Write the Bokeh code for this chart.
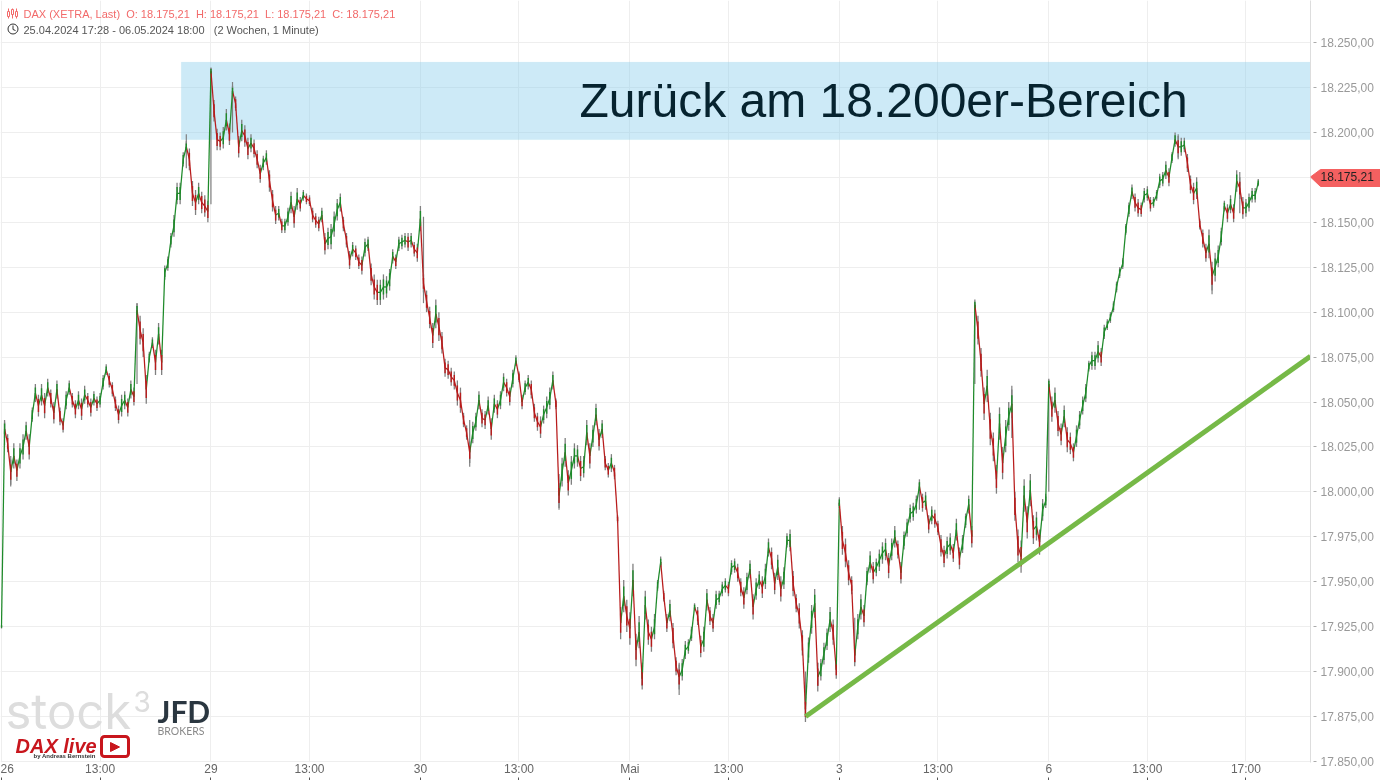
from bokeh.plotting import figure
from bokeh.embed import file_html
from bokeh.resources import INLINE
from bokeh.core.properties import value
from bokeh.models import (ColumnDataSource, FixedTicker, LinearAxis, Label, Grid,
                          BoxAnnotation, PolyAnnotation, Range1d)

# ---------- data ----------
STEP_MIN = 7.5   # one stored close per 7.5 trading minutes
closes = [
 # 26.04.
 17925,18035,18027,18011,18020,18012,18020,18025,18034,18025,18043,18055,18048,18054,18048,18058,18052,18044,18057,18042,18037,
 18051,18058,18051,18046,18051,18046,18054,18051,18047,18052,18049,18051,18061,18068,18062,18057,18049,18043,18048,18051,18047,18057,18053,
 18101,18090,18083,18057,18075,18083,18072,18088,18072,
 18122,18127,18140,18148,18166,18166,18185,18192,18185,18166,18161,18166,18161,18159,18156,
 # 29.04.
 18234,18212,18196,18195,18197,18207,18199,18223,18216,18192,18201,18198,18191,18194,18191,18185,18177,18183,18186,18173,18162,18154,18155,18148,18148,18153,18161,18153,18163,18160,18165,18163,18162,18154,18151,18149,18154,18138,18141,18142,18149,18157,18161,18149,18140,18129,
 18135,18133,18128,18126,18136,18138,18121,18114,18111,18111,18114,18114,18118,18131,18128,18138,18139,18140,18139,18140,18135,18133,
 # 30.04.
 18152,18116,18106,18097,18087,18099,18092,18083,18069,18068,18064,18062,18055,18051,18040,18033,18022,18033,18039,18051,
 18041,18040,18048,18035,18049,18046,18051,18061,18058,18053,18063,18073,18064,18050,18058,18061,18057,18044,18039,18036,18043,18047,18052,18062,18049,
 17998,18011,18022,18005,18012,18020,18020,18013,18014,18033,18020,18031,18043,18029,18035,18016,18012,18016,18011,17985,17927,17942,17931,
 # 02.05.
 17924,17951,17912,17922,17896,17937,17922,17918,17925,17948,17961,
 17942,17927,17934,17920,17903,17897,17901,17912,17914,17921,17936,17931,17914,17918,17940,17931,17927,17940,17941,17946,17948,17946,17958,17959,17955,17947,17941,17949,17957,17936,17946,17951,17947,17953,17969,17963,17949,17958,17946,17952,17973,17973,17949,17938,17931,17916,17879,17912,17929,17938,17897,17901,17910,17918,17929,17922,17901,
 # 03.05.
 17994,17973,17966,17955,17948,17909,17925,17936,17931,17953,17961,17955,17958,17962,17966,17968,17959,17968,17975,17968,17955,17973,17980,17988,17989,17993,18003,17994,17995,17982,17987,17985,17980,17970,17964,17969,17971,17966,17979,17963,17971,17984,17993,17975,
 18104,18090,18072,18049,18059,18035,18025,18007,18038,18016,18031,18042,18049,17992,17970,17964,17998,17983,18001,17979,17981,17972,17990,17995,
 # 06.05.
 18060,18046,18051,18038,18032,18042,18029,18027,18022,18031,18040,18048,18055,18070,18073,18073,18078,18075,18089,18093,18097,18103,18114,18122,18127,18146,18157,18167,18161,18158,18157,18165,18166,18160,18161,18165,18173,18174,18179,18175,18186,18196,18192,18192,18193,18183,18171,18166,18169,18149,18141,18133,18138,18120,18125,18131,18142,18159,18155,18160,18155,18173,18169,18158,18158,18161,18165,18165,18172,
]
# half height of the bar at each stored close
bar_spread = [
 1,5,5,7,7,6,7,7,5,7, 4,5,6,6,7,5,5,6,5,5, 4,5,4,4,5,5,6,5,4,5, 4,4,4,4,3,4,4,4,5,6,
 5,5,5,5,4,8,8,8,3,3, 7,6,7,4,4,4,6,6,6,4, 3,6,7,7,6,6,6,6,2,6, 6,5,6,6,6,3,4,6,6,6,
 6,5,5,5,5,4,4,6,6,5, 4,4,4,5,6,6,6,4,3,3, 3,4,4,4,4,6,6,7,7,6, 5,4,4,5,4,4,4,5,5,4,
 6,7,7,7,7,6,6,4,4,4, 4,4,5,4,4,5,7,5,6,6, 7,8,8,6,5,5,5,5,7,7, 4,4,6,6,5,5,5,5,5,6,
 5,5,5,5,5,5,5,3,3,4, 4,4,5,5,5,6,5,6,6,5, 3,7,8,8,7,8,7,6,7,6, 7,7,6,6,6,5,4,4,5,4,
 2,9,9,9,9,9,9,9,6,8, 7,7,7,3,3,3,5,6,7,5, 7,6,5,4,4,2,5,6,7,6, 5,5,5,4,4,4,4,4,4,5,
 5,6,6,5,7,6,5,6,7,5, 6,6,7,7,6,4,6,7,5,7, 7,7,7,8,8,8,6,6,6,7, 7,5,3,8,8,7,5,6,7,7,
 6,5,6,6,5,6,6,6,7,6, 6,5,6,5,5,5,5,5,4,5, 5,5,5,5,4,6,6,6,6,5, 6,6,5,4,5,6,3,8,8,9,
 9,9,8,8,9,9,9,8,8,8, 9,9,9,9,9,8,8,7,6,4, 3,7,7,7,6,6,7,6,5,6, 5,5,5,3,5,5,6,5,4,3,
 3,3,3,3,3,3,4,4,5,5, 4,4,4,4,3,3,4,4,5,5, 3,4,6,5,4,5,5,6,6,3, 5,5,8,8,8,6,5,3,5,5,
 5,6,6,6,5,5,4,4,2,
]
# notable wicks: sample number, low, high
wick_i    = [1, 3, 44, 60, 68, 75, 137, 152, 181, 208, 220, 261, 265, 277, 298, 316, 328, 340, 382, 393, 402]
wick_low  = [18026, 18003, 18060, 18180, 18160, 18200, 18105, 18014, 17990, 17892, 17887, 17875, 17892, 17905, 17990, 18060, 18030, 18000, 18185, 18110, 18155]
wick_high = [18039, 18020, 18105, 18199, 18236, 18228, 18153, 18040, 18010, 17905, 17905, 17900, 17905, 17930, 18005, 18105, 18059, 18062, 18199, 18125, 18178]

price_ticks  = [18250,18225,18200,18150,18125,18100,18075,18050,18025,18000,17975,17950,17925,17900,17875,17850]
price_labels = ["18.250,00","18.225,00","18.200,00","18.150,00","18.125,00","18.100,00","18.075,00","18.050,00","18.025,00","18.000,00","17.975,00","17.950,00","17.925,00","17.900,00","17.875,00","17.850,00"]
grid_prices  = [18250,18225,18200,18175,18150,18125,18100,18075,18050,18025,18000,17975,17950,17925,17900,17875,17850]
time_ticks   = [0,240,510,750,1020,1260,1530,1770,2040,2280,2550,2790,3030]
time_labels  = ["26","13:00","29","13:00","30","13:00","Mai","13:00","3","13:00","6","13:00","17:00"]

zone_low, zone_high = 18196, 18239
zone_start = 438
trend_x = [1958, 3187]
trend_y = [17875, 18075.4]
last_price = 18175.21
last_label = "18.175,21"

title_text = "Zurück am 18.200er-Bereich"
header_1 = "DAX (XETRA, Last)\u00a0\u00a0O: 18.175,21\u00a0\u00a0H: 18.175,21\u00a0\u00a0L: 18.175,21\u00a0\u00a0C: 18.175,21"
header_2 = "25.04.2024 17:28 - 06.05.2024 18:00\u00a0\u00a0\u00a0(2 Wochen, 1 Minute)"

# ---------- frame ----------
W, H = 1380, 780
FW, FH = 1310, 762
X0, X1 = -2.4, 3187.2
Y1, Y0 = 18273.37, 17849.44
def px(x): return X0 + x * (X1 - X0) / FW
def py(y): return Y1 - y * (Y1 - Y0) / FH

p = figure(width=W, height=H, output_backend="svg", toolbar_location=None,
           x_range=Range1d(X0, X1), y_range=Range1d(Y0, Y1),
           x_axis_location=None, y_axis_location=None,
           min_border_left=0, min_border_top=0, min_border_right=W-FW, min_border_bottom=H-FH,
           outline_line_color=None, background_fill_color="white", border_fill_color="white")
p.styles = {"position": "fixed", "left": "0px", "top": "0px"}
p.grid.visible = False
p.renderers = []

FONT = "Liberation Sans"
ya = LinearAxis(ticker=FixedTicker(ticks=price_ticks),
                major_label_overrides=dict(zip(price_ticks, price_labels)))
ya.axis_line_color = "#dddddd"
ya.major_tick_line_color = "#aaaaaa"
ya.major_tick_in = -3
ya.major_tick_out = 6
ya.minor_tick_line_color = None
ya.major_label_text_font = FONT
ya.major_label_text_font_size = "12px"
ya.major_label_text_color = "#999999"
ya.major_label_standoff = 4
p.add_layout(ya, "right")

xa = LinearAxis(ticker=FixedTicker(ticks=time_ticks),
                major_label_overrides=dict(zip(time_ticks, time_labels)))
xa.axis_line_color = None
xa.major_tick_line_color = "#555555"
xa.major_tick_in = -15
xa.major_tick_out = 18
xa.minor_tick_line_color = None
xa.major_label_text_font = FONT
xa.major_label_text_font_size = "12px"
xa.major_label_text_color = "#666666"
xa.major_label_standoff = -19
p.add_layout(xa, "below")

p.add_layout(Grid(dimension=0, ticker=xa.ticker, grid_line_color="#eeeeee", grid_line_width=1))
p.add_layout(Grid(dimension=1, ticker=FixedTicker(ticks=grid_prices), grid_line_color="#eeeeee", grid_line_width=1))

# ---------- marks ----------
p.quad(left=[zone_start], right=[X1], bottom=[zone_low], top=[zone_high],
       fill_color="#87CEEB", fill_alpha=0.42, line_color="#87CEEB", line_alpha=0.15)

times = [i * STEP_MIN for i in range(len(closes))]
colors = ["#1E8A2A"] + ["#1E8A2A" if b >= a else "#B81C1C" for a, b in zip(closes[:-1], closes[1:])]
bars = ColumnDataSource(dict(
    x=times, c=colors,
    wlo=[c - s for c, s in zip(closes, bar_spread)],
    whi=[c + s for c, s in zip(closes, bar_spread)],
    blo=[c - 0.6 * s for c, s in zip(closes, bar_spread)],
    bhi=[c + 0.6 * s for c, s in zip(closes, bar_spread)]))
wx = [k * STEP_MIN for k in wick_i]
p.segment(wx, wick_low, wx, wick_high, line_color="#808080", line_width=1.2)
p.segment("x", "wlo", "x", "whi", source=bars, line_color="#808080", line_width=1.3)
seg = ColumnDataSource(dict(x0=times[:-1], x1=times[1:], y0=closes[:-1], y1=closes[1:], c=colors[1:]))
p.segment("x0", "y0", "x1", "y1", source=seg, line_color="c", line_width=1.25)
p.segment("x", "blo", "x", "bhi", source=bars, line_color="c", line_width=1.4)

p.line(trend_x, trend_y, line_color="#76B947", line_width=5)

# ---------- texts ----------
def label(x, y, text, size, color, style="normal", font=FONT, align="left"):
    p.add_layout(Label(x=px(x), y=py(y), text=text, text_font=font, text_font_size=f"{size}px",
                       text_color=color, text_font_style=style, text_align=align,
                       text_baseline="middle"))

label(579, 100, title_text, 48, "#06232F")
label(23, 13, header_1, 11, "#F26A6A")
label(23, 29, header_2, 11, "#555555")

# header icons
for cx, t, b in [(8, 11, 16), (12, 9, 14), (16, 11, 16)]:
    p.add_layout(BoxAnnotation(left=px(cx-1), right=px(cx+1), top=py(t), bottom=py(b),
                               fill_color="white", fill_alpha=1, line_color="#F26A6A", line_alpha=1))
    p.segment([px(cx)], [py(8)], [px(cx)], [py(18)], line_color="#F26A6A", line_width=1)
p.scatter([px(12.5)], [py(28.5)], size=10, marker="circle", fill_color=None, line_color="#333333", line_width=1)
p.line([px(12.5), px(12.5), px(15)], [py(25), py(29), py(30)], line_color="#333333", line_width=1)

# logos
label(5, 711, "stock", 49, "#DDDDDD", font="Inter")
label(133, 701, "3", 28, "#DDDDDD", font="Inter")
label(157, 710, "JFD", 30, "#2A3640", style="bold", font="Lato")
label(157, 730, "BROKERS", 10.5, "#8A8A8A", font="Lato")
label(15, 745, "DAX live", 20, "#C8161D", style="bold italic")
label(33, 755, "by Andreas Bernstein", 6, "#333333", style="bold")
p.add_layout(BoxAnnotation(left=px(101), right=px(128), top=py(736), bottom=py(756),
                           fill_color="white", fill_alpha=1, line_color="#C8161D", line_alpha=1,
                           line_width=3, border_radius=3))
p.add_layout(PolyAnnotation(xs=[px(110), px(119), px(110)], ys=[py(742), py(746.5), py(751)],
                            fill_color="#C8161D", fill_alpha=1, line_color="#C8161D", line_alpha=1))

# ---------- last price tag: a small figure of its own over the axis strip ----------
tag = figure(width=70, height=19, output_backend="svg", toolbar_location=None,
             x_range=Range1d(1310, 1380), y_range=Range1d(py(187), py(168)),
             x_axis_location=None, y_axis_location=None, min_border=0,
             outline_line_color=None, background_fill_color=None, border_fill_color=None)
tag.grid.visible = False
tag.styles = {"position": "fixed", "left": "1310px", "top": "168px", "z-index": "10"}
tag.patch([1310, 1320, 1380, 1380, 1320], [last_price, py(169), py(169), py(186), py(186)],
          fill_color="#F46060", line_color="#F46060")
tag.text([1320], [last_price], text=[last_label], text_font=value(FONT), text_font_size="12px",
         text_color="#222222", text_baseline="middle")

open("out.html", "w").write(file_html([p, tag], INLINE))
